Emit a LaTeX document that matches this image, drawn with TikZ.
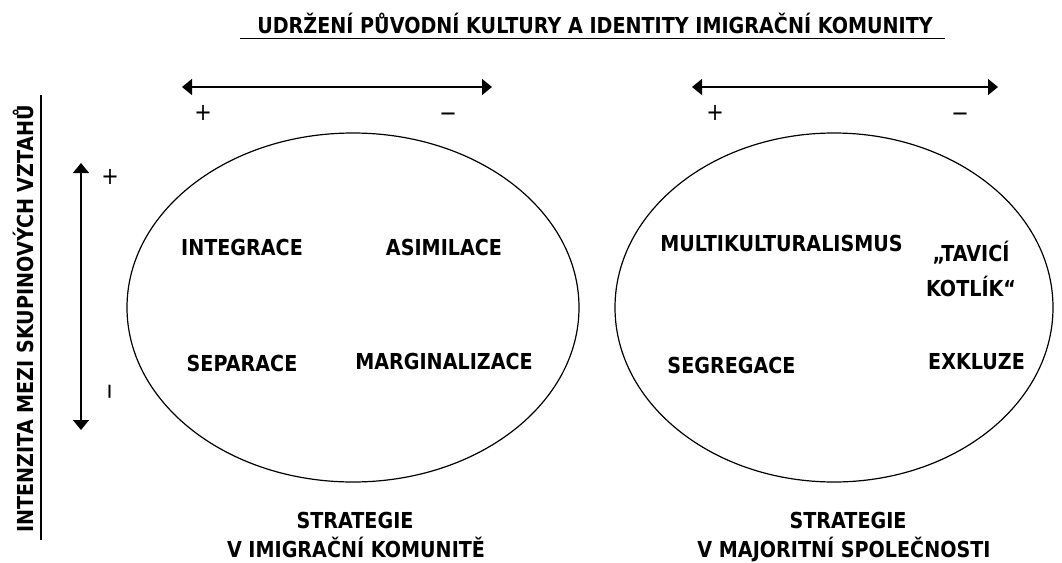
\documentclass[tikz,border=0pt]{standalone}
\usepackage{fontspec}
\setmainfont{DejaVu Sans}[FakeStretch=0.87]
\usetikzlibrary{arrows.meta}
\begin{document}
\begin{tikzpicture}[x=1pt,y=-1pt,
  lbl/.style={font=\bfseries\fontsize{22}{26}\selectfont, inner sep=0pt, anchor=base},
  ttl/.style={font=\bfseries\fontsize{22}{26}\selectfont, inner sep=0pt, anchor=base},
  sgn/.style={font=\fontsize{24}{28}\selectfont, inner sep=0pt},
  arr/.style={line width=1.4pt, {Triangle[length=10pt,width=16pt]}-{Triangle[length=10pt,width=16pt]}},
  ell/.style={draw, line width=1.2pt}]
\useasboundingbox (0,0) rectangle (1062,562);
% title
\node[ttl] (title) at (595,33) {UDRŽENÍ PŮVODNÍ KULTURY A IDENTITY IMIGRAČNÍ KOMUNITY};
\draw[line width=1.2pt] (240,38.5) -- (945,38.5);
% vertical label
\node[ttl, rotate=90] (vlab) at (33,319) {INTENZITA MEZI SKUPINOVÝCH VZTAHŮ};
\draw[line width=1.2pt] (41,95) -- (41,540);
% horizontal arrows
\coordinate (hl1) at (182,87); \coordinate (hr1) at (492,87);
\coordinate (hl2) at (692,87); \coordinate (hr2) at (998,87);
\draw[arr] (hl1) -- (hr1);
\draw[arr] (hl2) -- (hr2);
\node[sgn] (p1) at (203,113) {+};
\node[sgn] (m1) at (448,117) {−};
\node[sgn] (p2) at (715,113) {+};
\node[sgn] (m2) at (960,117) {−};
% vertical arrow
\coordinate (vt) at (81,163); \coordinate (vb) at (81,430);
\draw[arr] (vb) -- (vt);
\node[sgn] (pv) at (110,177) {+};
\node[sgn, rotate=90] (mv) at (113,392) {−};
% ellipses
\draw[ell] (353,307.5) ellipse [x radius=226, y radius=174.5];
\draw[ell] (834,307.5) ellipse [x radius=219, y radius=174.5];
% left labels
\node[lbl] (int) at (242,255) {INTEGRACE};
\node[lbl] (asi) at (444,255) {ASIMILACE};
\node[lbl] (sep) at (242,371.5) {SEPARACE};
\node[lbl] (mar) at (444,369.5) {MARGINALIZACE};
% right labels
\node[lbl] (mul) at (781.5,251.5) {MULTIKULTURALISMUS};
\node[lbl] (tav) at (971,261.5) {„TAVICÍ};
\node[lbl] (kot) at (971,296.5) {KOTLÍK“};
\node[lbl] (seg) at (731.5,373) {SEGREGACE};
\node[lbl] (exk) at (976.5,369.5) {EXKLUZE};
% captions
\node[lbl] (s1) at (355,528) {STRATEGIE};
\node[lbl] (s1b) at (356,557) {V IMIGRAČNÍ KOMUNITĚ};
\node[lbl] (s2) at (848,528) {STRATEGIE};
\node[lbl] (s2b) at (844,557) {V MAJORITNÍ SPOLEČNOSTI};
\end{tikzpicture}
\end{document}
